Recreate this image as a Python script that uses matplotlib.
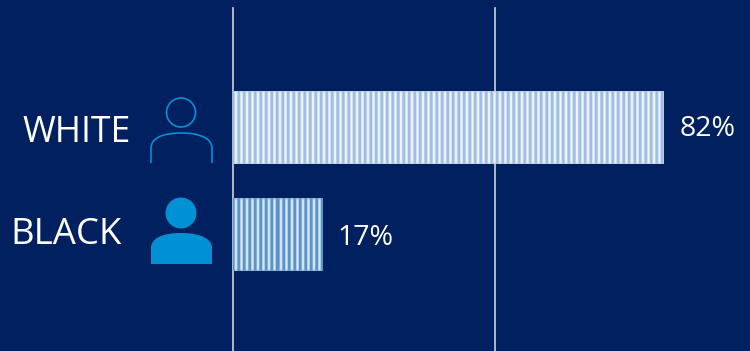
import numpy as np
import matplotlib
matplotlib.use("Agg")
import matplotlib.pyplot as plt
from matplotlib.colors import LinearSegmentedColormap
from matplotlib.patches import Circle, PathPatch
from matplotlib.path import Path

plt.rcParams['font.family'] = ['Open Sans', 'DejaVu Sans']

categories = ['BLACK', 'WHITE']
values = [17, 82]
value_labels = ['17%', '82%']
grid_values = [0, 49.8]

NAVY = '#002060'
ICON = '#0091d5'
LIGHT_BAR = ['#9fbee2', '#eef4fb']
DARK_BAR = ['#5a93c6', '#dbe8f5']

fig = plt.figure(figsize=(7.5, 3.51), dpi=100, facecolor=NAVY)
ax = fig.add_axes([0, 0, 1, 1], facecolor=NAVY)

# 5.256 px per percent, zero at x=233; rows 107 px apart
ax.set_xlim(-233 / 5.256, (750 - 233) / 5.256)
ax.set_ylim(-116.5 / 107, 1 + 127 / 107)
ax.axis('off')

for g in grid_values:
    ax.plot([g, g], [ax.get_ylim()[0], 1 + 119 / 107], color='#cfd3da', lw=1.2, zorder=1)

bars = ax.barh(range(len(values)), values, height=0.68, color='none', zorder=2)

# vertical stripe fill, clipped to each bar
for bar, colors in zip(bars, [DARK_BAR, LIGHT_BAR]):
    w_px = int(round(bar.get_width() * 5.256))
    h_px = 72
    xs = np.arange(w_px) + 0.5
    stripes = np.clip(0.42 + 0.62 * np.cos(2 * np.pi * (xs - 3.0) / 5.5), 0, 1)
    img = np.tile(stripes, (h_px, 1))
    # soft top and bottom edges
    fade = np.minimum(np.arange(h_px), np.arange(h_px)[::-1]) / 2.0
    fade = np.clip(fade, 0, 1)[:, None]
    img = img * (0.5 + 0.5 * fade) + 0.1 * (1 - fade)
    cmap = LinearSegmentedColormap.from_list('stripe', colors)
    im = ax.imshow(img, cmap=cmap, vmin=0, vmax=1, aspect='auto', interpolation='nearest',
                   extent=[0, bar.get_width(), bar.get_y(), bar.get_y() + bar.get_height()],
                   zorder=2)
    im.set_clip_path(bar)

ax.set_xlim(-233 / 5.256, (750 - 233) / 5.256)
ax.set_ylim(-116.5 / 107, 1 + 127 / 107)

for i, (v, lab) in enumerate(zip(values, value_labels)):
    ax.annotate(lab, (v, i), xytext=(11, -1 if i else -2.5), textcoords='offset points',
                color='white', fontsize=20.5, va='center', ha='left')

# category names and person icons, placed in pixels from the top left
overlay = fig.add_axes([0, 0, 1, 1], facecolor='none')
overlay.set_xlim(0, 750)
overlay.set_ylim(351, 0)
overlay.axis('off')

overlay.text(130.5, 132.5, categories[1], color='white', fontsize=25.6, ha='right', va='center')
overlay.text(122, 234.5, categories[0], color='white', fontsize=26.3, ha='right', va='center')


def body_path(top, bottom, closed):
    left, right, mid = 151, 212, 181
    verts = [(left, bottom), (left, top + 15), (left, top + 6), (mid - 20, top), (mid, top),
             (mid + 20, top), (right, top + 6), (right, top + 15), (right, bottom)]
    codes = [Path.MOVETO, Path.LINETO, Path.CURVE4, Path.CURVE4, Path.CURVE4,
             Path.CURVE4, Path.CURVE4, Path.CURVE4, Path.LINETO]
    if closed:
        verts.append((left, bottom))
        codes.append(Path.CLOSEPOLY)
    return Path(verts, codes)


# outlined person
overlay.add_patch(Circle((181, 112.5), 14.5, fill=False, ec=ICON, lw=1.2))
overlay.add_patch(PathPatch(body_path(133, 163, False), fill=False, ec=ICON, lw=1.2))
# filled person
overlay.add_patch(Circle((181, 213), 15.5, fc=ICON, ec='none'))
overlay.add_patch(PathPatch(body_path(233, 264, True), fc=ICON, ec='none'))

fig.savefig('out.png', dpi=100, facecolor=NAVY)
